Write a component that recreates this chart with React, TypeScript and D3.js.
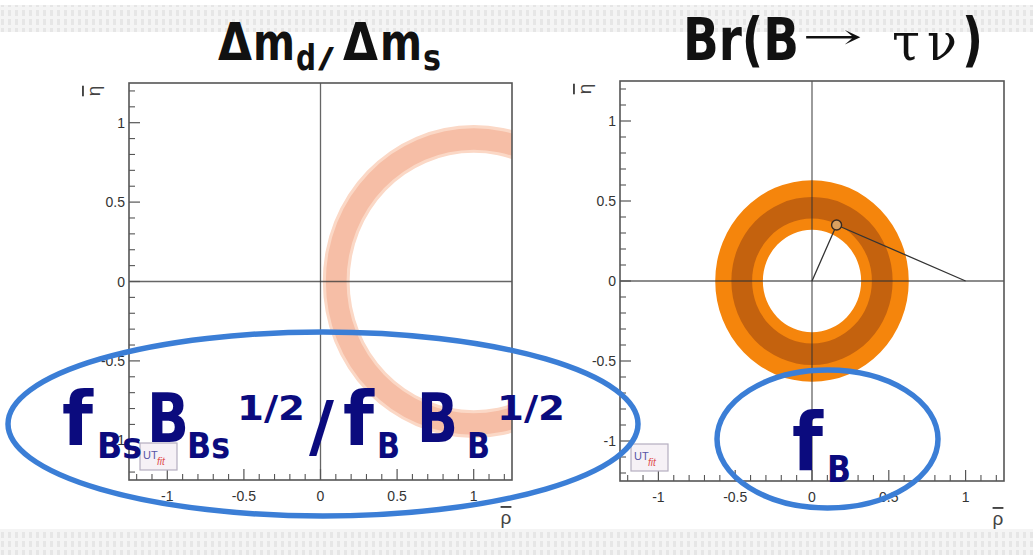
import React from 'react';
import * as d3 from 'd3';

const W = 1033;
const H = 557;

// ---- axis data ----
const rhoDomain: [number, number] = [-1.25, 1.25];
const etaDomain: [number, number] = [-1.25, 1.25];
const majorTicks = [-1, -0.5, 0, 0.5, 1];
const majorTickLabels = ['-1', '-0.5', '0', '0.5', '1'];
const minorTicks = [-1.2, -1.1, -0.9, -0.8, -0.7, -0.6, -0.4, -0.3, -0.2, -0.1, 0.1, 0.2, 0.3, 0.4, 0.6, 0.7, 0.8, 0.9, 1.1, 1.2];

// ---- constraint data ----
// Δm_d/Δm_s ring centred on (1, 0): [inner, outer] radii of 95% and 68% regions
const dmCenter: [number, number] = [1, 0];
const dmBand95: [number, number] = [0.81, 0.985];
const dmBand68: [number, number] = [0.83, 0.965];
// Br(B→τν) ring centred on (0, 0)
const btnCenter: [number, number] = [0, 0];
const btnBand95: [number, number] = [0.32, 0.63];
const btnBand68: [number, number] = [0.39, 0.525];
// Unitarity triangle vertices
const triangle: [number, number][] = [[0, 0], [0.16, 0.35], [1, 0]];

const titleLeft = ['Δ', 'm', 'd', '/', 'Δ', 'm', 's'];
const titleRight = ['Br(B', '→', 'τ', 'ν', ')'];

type Panel = { x0: number; x1: number; y0: number; y1: number };
const leftPanel: Panel = { x0: 129, x1: 512, y0: 83, y1: 480 };
const rightPanel: Panel = { x0: 620, x1: 1004, y0: 81, y1: 481 };

function ellipsePath(px: number, py: number, rx: number, ry: number) {
  return `M${px + rx},${py}A${rx},${ry} 0 1 0 ${px - rx},${py}A${rx},${ry} 0 1 0 ${px + rx},${py}Z`;
}

function ringPath(center: [number, number], band: [number, number], xs: d3.ScaleLinear<number, number>, ys: d3.ScaleLinear<number, number>) {
  const px = xs(center[0]);
  const py = ys(center[1]);
  const [ri, ro] = band;
  const rxo = xs(center[0] + ro) - px;
  const ryo = py - ys(center[1] + ro);
  const rxi = xs(center[0] + ri) - px;
  const ryi = py - ys(center[1] + ri);
  return ellipsePath(px, py, rxo, ryo) + ellipsePath(px, py, rxi, ryi);
}

const AX = '#555';
const tickFont = "'Liberation Sans', Arial, sans-serif";

function Frame({ p, id, children }: { p: Panel; id: string; children?: React.ReactNode }) {
  const xs = d3.scaleLinear().domain(rhoDomain).range([p.x0, p.x1]);
  const ys = d3.scaleLinear().domain(etaDomain).range([p.y1, p.y0]);
  return (
    <g>
      <defs>
        <clipPath id={id}>
          <rect x={p.x0} y={p.y0} width={p.x1 - p.x0} height={p.y1 - p.y0} />
        </clipPath>
      </defs>
      <rect x={p.x0} y={p.y0} width={p.x1 - p.x0} height={p.y1 - p.y0} fill="#fff" />
      <g clipPath={`url(#${id})`}>{children}</g>
      {/* inner axes */}
      <line x1={xs(0)} x2={xs(0)} y1={p.y0} y2={p.y1} stroke="#333" strokeOpacity={0.75} strokeWidth={1.3} />
      <line x1={p.x0} x2={p.x1} y1={ys(0)} y2={ys(0)} stroke="#333" strokeOpacity={0.75} strokeWidth={1.3} />
      {/* ticks */}
      {majorTicks.map((t) => (
        <g key={'mx' + t}>
          <line x1={xs(t)} x2={xs(t)} y1={p.y1} y2={p.y1 - 11} stroke={AX} strokeWidth={1.2} />
          <line x1={p.x0} x2={p.x0 + 11} y1={ys(t)} y2={ys(t)} stroke={AX} strokeWidth={1.2} />
        </g>
      ))}
      {minorTicks.map((t) => (
        <g key={'nx' + t}>
          <line x1={xs(t)} x2={xs(t)} y1={p.y1} y2={p.y1 - 6} stroke={AX} strokeWidth={1.1} />
          <line x1={p.x0} x2={p.x0 + 6} y1={ys(t)} y2={ys(t)} stroke={AX} strokeWidth={1.1} />
        </g>
      ))}
      <rect x={p.x0} y={p.y0} width={p.x1 - p.x0} height={p.y1 - p.y0} fill="none" stroke={AX} strokeWidth={1.6} />
      {/* tick labels */}
      {majorTicks.map((t, i) => (
        <text key={'lx' + t} x={xs(t)} y={p.y1 + 21} textAnchor="middle" fontFamily={tickFont} fontSize={14} fill="#333">
          {majorTickLabels[i]}
        </text>
      ))}
      {majorTicks.map((t, i) => (
        <text key={'ly' + t} x={p.x0 - 4} y={ys(t) + 5} textAnchor="end" fontFamily={tickFont} fontSize={14} fill="#333">
          {majorTickLabels[i]}
        </text>
      ))}
      {/* axis titles */}
      <text x={p.x0 - 9} y={p.y0 + 8} transform={`rotate(-90 ${p.x0 - 29} ${p.y0 + 8})`} dx={-20} fontFamily={tickFont} fontSize={19} fill="#444" textDecoration="overline" textAnchor="middle">η</text>
      <text x={p.x1 - 6} y={p.y1 + 44} fontFamily={tickFont} fontSize={19} fill="#444" textDecoration="overline" textAnchor="middle">ρ</text>
      {/* UTfit logo */}
      <g>
        <rect x={p.x0 + 11} y={p.y1 - 37} width={37} height={27} fill="#f6f1f6" stroke="#b5aec0" strokeWidth={1.2} />
        <text x={p.x0 + 14} y={p.y1 - 21} fontFamily={tickFont} fontSize={11} fill="#5656a6">UT</text>
        <text x={p.x0 + 28} y={p.y1 - 15} fontFamily={tickFont} fontSize={10} fontStyle="italic" fill="#e05050">fit</text>
      </g>
    </g>
  );
}

export default function App() {
  const xl = d3.scaleLinear().domain(rhoDomain).range([leftPanel.x0, leftPanel.x1]);
  const yl = d3.scaleLinear().domain(etaDomain).range([leftPanel.y1, leftPanel.y0]);
  const xr = d3.scaleLinear().domain(rhoDomain).range([rightPanel.x0, rightPanel.x1]);
  const yr = d3.scaleLinear().domain(etaDomain).range([rightPanel.y1, rightPanel.y0]);
  const triLine = d3.line<[number, number]>().x((d) => xr(d[0])).y((d) => yr(d[1]));

  const navy = '#0b0b7e';
  const ov = "'DejaVu Sans', Verdana, sans-serif";
  const blue = '#3b7ed6';

  return (
    <svg width={W} height={H} style={{ position: 'absolute', left: 0, top: 0 }} xmlns="http://www.w3.org/2000/svg">
      <defs>
        <pattern id="band" width={7} height={9} patternUnits="userSpaceOnUse">
          <rect width={7} height={9} fill="#f4f4f4" />
          <rect x={1} y={1} width={3} height={6} fill="#e6e6e6" />
        </pattern>
      </defs>
      <rect width={W} height={H} fill="#fff" />
      <rect x={0} y={5} width={W} height={27} fill="url(#band)" />
      <rect x={0} y={529} width={W} height={26} fill="url(#band)" />

      <Frame p={leftPanel} id="clipL">
        <path d={ringPath(dmCenter, dmBand95, xl, yl)} fill="#fbd8c6" fillRule="evenodd" />
        <path d={ringPath(dmCenter, dmBand68, xl, yl)} fill="#f6bea6" fillRule="evenodd" />
      </Frame>
      <Frame p={rightPanel} id="clipR">
        <path d={ringPath(btnCenter, btnBand95, xr, yr)} fill="#f5850c" fillRule="evenodd" />
        <path d={ringPath(btnCenter, btnBand68, xr, yr)} fill="#c4620e" fillRule="evenodd" />
        <path d={triLine(triangle) || ''} fill="none" stroke="#333" strokeWidth={1.3} />
        <circle cx={xr(triangle[1][0])} cy={yr(triangle[1][1])} r={5} fill="#d9a060" stroke="#3a2a20" strokeWidth={1.4} />
      </Frame>

      {/* titles */}
      <g fontFamily={ov} fontWeight="bold" fill="#111">
        <text x={218} y={60} fontSize={52} textLength={34} lengthAdjust="spacingAndGlyphs">{titleLeft[0]}</text>
        <text x={253} y={60} fontSize={52} textLength={42} lengthAdjust="spacingAndGlyphs">{titleLeft[1]}</text>
        <text x={296} y={70} fontSize={36} textLength={20} lengthAdjust="spacingAndGlyphs">{titleLeft[2]}</text>
        <text x={318} y={68} fontSize={28} textLength={16} lengthAdjust="spacingAndGlyphs">{titleLeft[3]}</text>
        <text x={343} y={60} fontSize={52} textLength={35} lengthAdjust="spacingAndGlyphs">{titleLeft[4]}</text>
        <text x={380} y={60} fontSize={52} textLength={42} lengthAdjust="spacingAndGlyphs">{titleLeft[5]}</text>
        <text x={423} y={70} fontSize={36} textLength={18} lengthAdjust="spacingAndGlyphs">{titleLeft[6]}</text>

        <text x={683} y={60} fontSize={58} textLength={116} lengthAdjust="spacingAndGlyphs">{titleRight[0]}</text>
        <text x={802} y={48} fontSize={34} fontWeight="normal" fontFamily="'DejaVu Serif', serif" textLength={61} lengthAdjust="spacingAndGlyphs">{titleRight[1]}</text>
        <text x={892} y={60} fontSize={52} fontWeight="normal" fontFamily="'DejaVu Serif', serif" textLength={28} lengthAdjust="spacingAndGlyphs">{titleRight[2]}</text>
        <text x={927} y={60} fontSize={52} fontWeight="normal" fontFamily="'DejaVu Serif', serif" textLength={30} lengthAdjust="spacingAndGlyphs">{titleRight[3]}</text>
        <text x={962} y={60} fontSize={58} textLength={21} lengthAdjust="spacingAndGlyphs">{titleRight[4]}</text>
      </g>

      {/* overlay annotations */}
      <g fontFamily={ov} fontWeight="bold" fill={navy}>
        <text x={62} y={445} fontSize={75} textLength={31} lengthAdjust="spacingAndGlyphs">f</text>
        <text x={97} y={458} fontSize={36} textLength={45} lengthAdjust="spacingAndGlyphs">Bs</text>
        <text x={147} y={442} fontSize={68} textLength={42} lengthAdjust="spacingAndGlyphs">B</text>
        <text x={187} y={458} fontSize={36} textLength={43} lengthAdjust="spacingAndGlyphs">Bs</text>
        <text x={237} y={420} fontSize={34} textLength={68} lengthAdjust="spacingAndGlyphs">1/2</text>
        <text x={309} y={450} fontSize={68} textLength={25} lengthAdjust="spacingAndGlyphs">/</text>
        <text x={343} y={445} fontSize={75} textLength={31} lengthAdjust="spacingAndGlyphs">f</text>
        <text x={377} y={458} fontSize={36} textLength={23} lengthAdjust="spacingAndGlyphs">B</text>
        <text x={417} y={442} fontSize={68} textLength={41} lengthAdjust="spacingAndGlyphs">B</text>
        <text x={467} y={458} fontSize={36} textLength={23} lengthAdjust="spacingAndGlyphs">B</text>
        <text x={497} y={420} fontSize={34} textLength={68} lengthAdjust="spacingAndGlyphs">1/2</text>

        <text x={792} y={470} fontSize={80} textLength={31} lengthAdjust="spacingAndGlyphs">f</text>
        <text x={827} y={482} fontSize={37} textLength={24} lengthAdjust="spacingAndGlyphs">B</text>
      </g>
      <path d={ellipsePath(323, 424, 315, 92)} fill="none" stroke={blue} strokeWidth={5.5} />
      <path d={ellipsePath(827.5, 439, 110.5, 69)} fill="none" stroke={blue} strokeWidth={5.5} />
    </svg>
  );
}
